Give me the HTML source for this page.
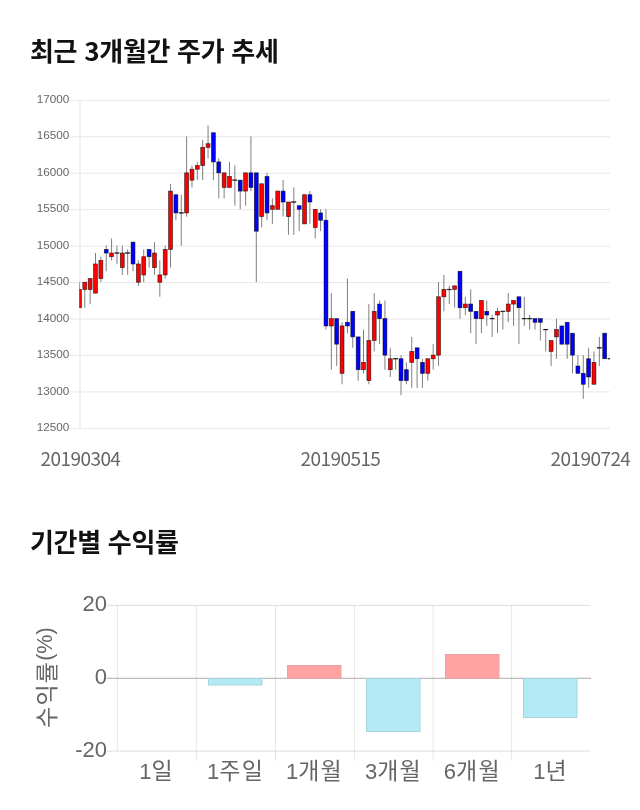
<!DOCTYPE html>
<html lang="ko"><head><meta charset="utf-8"><title>최근 3개월간 주가 추세</title>
<style>
html,body{margin:0;padding:0;background:#fff;}
body{width:640px;height:810px;position:relative;overflow:hidden;font-family:"Liberation Sans","Noto Sans CJK KR",sans-serif;}
h2{position:absolute;margin:0;left:30px;font:bold 26px/36px "Noto Sans CJK KR","Liberation Sans",sans-serif;color:#111;white-space:nowrap;letter-spacing:-0.3px;}
svg{position:absolute;left:0;top:0;}
.yl{font:11.7px "Liberation Sans",sans-serif;fill:#666;text-anchor:end;}
.dl{letter-spacing:-0.55px;text-anchor:middle;font:19px "Noto Sans CJK KR","Liberation Sans",sans-serif;fill:#666;}
.bl{font:22px "Liberation Sans","Noto Sans CJK KR",sans-serif;fill:#666;}
.kr{font-family:"Noto Sans CJK KR","Liberation Sans",sans-serif;font-size:23px;letter-spacing:1.2px;}
</style></head><body>
<h2 style="top:32.4px">최근 3개월간 주가 추세</h2>
<h2 style="top:523.4px">기간별 수익률</h2>
<svg width="640" height="810" viewBox="0 0 640 810">
<g stroke="#e8e8e8" stroke-width="1">
<line x1="69.5" y1="100.30" x2="610" y2="100.30"/>
<line x1="69.5" y1="136.75" x2="610" y2="136.75"/>
<line x1="69.5" y1="173.20" x2="610" y2="173.20"/>
<line x1="69.5" y1="209.65" x2="610" y2="209.65"/>
<line x1="69.5" y1="246.10" x2="610" y2="246.10"/>
<line x1="69.5" y1="282.55" x2="610" y2="282.55"/>
<line x1="69.5" y1="319.00" x2="610" y2="319.00"/>
<line x1="69.5" y1="355.45" x2="610" y2="355.45"/>
<line x1="69.5" y1="391.90" x2="610" y2="391.90"/>
<line x1="69.5" y1="428.35" x2="610" y2="428.35"/>
<line x1="80" y1="100.30" x2="80" y2="428.35" stroke="#efefef" stroke-width="1.6"/>
</g>
<g class="yl">
<text x="69.2" y="103.0">17000</text>
<text x="69.2" y="139.4">16500</text>
<text x="69.2" y="175.9">16000</text>
<text x="69.2" y="212.3">15500</text>
<text x="69.2" y="248.8">15000</text>
<text x="69.2" y="285.2">14500</text>
<text x="69.2" y="321.7">14000</text>
<text x="69.2" y="358.2">13500</text>
<text x="69.2" y="394.6">13000</text>
<text x="69.2" y="431.1">12500</text>
</g>
<g class="dl"><text x="80.4" y="466.3">20190304</text><text x="340.4" y="466.3">20190515</text><text x="590.4" y="466.3">20190724</text></g>
<defs><clipPath id="cp"><rect x="79.3" y="95" width="530.8" height="340"/></clipPath></defs>
<g clip-path="url(#cp)">
<path d="M79.42 282.20V307.72M84.78 282.20V307.72M90.14 278.56V304.07M95.50 253.04V293.14M100.86 256.69V282.20M106.22 245.75V271.27M111.58 238.46V260.33M116.94 245.75V263.98M122.30 245.75V274.91M127.66 249.40V274.91M133.02 242.11V271.27M138.38 260.33V285.85M143.74 249.40V282.20M149.10 249.40V267.62M154.46 242.11V274.91M159.82 260.33V296.78M165.18 245.75V278.56M170.54 183.79V267.62M175.90 194.72V220.24M181.26 194.72V245.75M186.62 136.40V216.59M191.98 165.56V187.43M197.34 161.92V180.14M202.70 140.05V180.14M208.06 125.47V158.27M213.42 132.75V180.14M218.78 158.27V198.37M224.14 172.85V198.37M229.50 161.92V187.43M234.86 165.56V205.66M240.22 180.14V209.30M245.58 172.85V205.66M250.94 136.40V191.08M256.30 172.85V282.20M261.66 183.79V227.53M267.02 172.85V220.24M272.38 198.37V223.88M277.74 191.08V209.30M283.10 180.14V216.59M288.46 202.01V234.81M293.82 187.43V234.81M299.18 205.66V231.17M304.54 194.72V223.88M309.90 191.08V223.88M315.26 209.30V238.46M320.62 209.30V231.17M325.98 209.30V329.59M331.34 293.14V369.68M336.70 318.65V366.04M342.06 322.30V384.26M347.42 278.56V333.23M352.78 311.36V347.81M358.14 336.88V380.62M363.50 329.59V373.32M368.86 304.07V384.26M374.22 293.14V351.46M379.58 300.43V344.17M384.94 300.43V369.68M390.30 347.81V376.97M395.66 358.75V369.68M401.02 355.10V395.19M406.38 362.39V384.26M411.74 336.88V387.91M417.10 347.81V387.91M422.46 358.75V387.91M427.82 358.75V380.62M433.18 344.17V369.68M438.54 282.20V366.04M443.90 274.91V311.36M449.26 285.85V304.07M454.62 285.85V307.72M459.98 271.27V318.65M465.34 296.78V315.00M470.70 289.49V333.23M476.06 311.36V344.17M481.42 300.43V333.23M486.78 300.43V325.94M492.14 315.00V336.88M497.50 307.72V333.23M502.86 311.36V329.59M508.22 293.14V322.30M513.58 300.43V325.94M518.94 296.78V344.17M524.30 296.78V325.94M529.66 315.00V329.59M535.02 318.65V329.59M540.38 318.65V340.52M545.74 329.59V351.46M551.10 340.52V366.04M556.46 318.65V358.75M561.82 325.94V344.17M567.18 322.30V358.75M572.54 333.23V373.32M577.90 355.10V373.32M583.26 355.10V398.84M588.62 347.81V387.91M593.98 351.46V384.26M599.34 336.88V366.04M604.70 333.23V358.75" stroke="#000" stroke-opacity="0.5" stroke-width="1" fill="none"/>
<g stroke="#000" stroke-opacity="0.7" stroke-width="0.7">
<rect x="77.47" y="289.49" width="3.90" height="18.23" fill="#ff0000"/>
<rect x="82.83" y="282.20" width="3.90" height="7.29" fill="#ff0000"/>
<rect x="88.19" y="278.56" width="3.90" height="10.94" fill="#ff0000"/>
<rect x="93.55" y="263.98" width="3.90" height="29.16" fill="#ff0000"/>
<rect x="98.91" y="260.33" width="3.90" height="18.22" fill="#ff0000"/>
<rect x="104.27" y="249.40" width="3.90" height="3.64" fill="#0000ff"/>
<rect x="109.63" y="253.04" width="3.90" height="3.64" fill="#ff0000"/>
<rect x="114.79" y="252.69" width="4.30" height="0.7" fill="#000" stroke="#000" stroke-width="0.5"/>
<rect x="120.35" y="253.04" width="3.90" height="14.58" fill="#ff0000"/>
<rect x="125.51" y="252.69" width="4.30" height="0.7" fill="#000" stroke="#000" stroke-width="0.5"/>
<rect x="131.07" y="242.11" width="3.90" height="21.87" fill="#0000ff"/>
<rect x="136.43" y="263.98" width="3.90" height="18.23" fill="#ff0000"/>
<rect x="141.79" y="256.69" width="3.90" height="18.23" fill="#ff0000"/>
<rect x="147.15" y="249.40" width="3.90" height="7.29" fill="#0000ff"/>
<rect x="152.51" y="253.04" width="3.90" height="14.58" fill="#ff0000"/>
<rect x="157.87" y="274.91" width="3.90" height="7.29" fill="#ff0000"/>
<rect x="163.23" y="249.40" width="3.90" height="25.51" fill="#ff0000"/>
<rect x="168.59" y="191.08" width="3.90" height="58.32" fill="#ff0000"/>
<rect x="173.95" y="194.72" width="3.90" height="18.22" fill="#0000ff"/>
<rect x="179.11" y="212.59" width="4.30" height="0.7" fill="#000" stroke="#000" stroke-width="0.5"/>
<rect x="184.67" y="172.85" width="3.90" height="40.09" fill="#ff0000"/>
<rect x="190.03" y="169.21" width="3.90" height="10.94" fill="#ff0000"/>
<rect x="195.39" y="165.56" width="3.90" height="3.65" fill="#ff0000"/>
<rect x="200.75" y="147.34" width="3.90" height="18.22" fill="#ff0000"/>
<rect x="206.11" y="143.69" width="3.90" height="3.65" fill="#ff0000"/>
<rect x="211.47" y="132.75" width="3.90" height="29.16" fill="#0000ff"/>
<rect x="216.83" y="161.92" width="3.90" height="10.94" fill="#0000ff"/>
<rect x="222.19" y="172.85" width="3.90" height="14.58" fill="#ff0000"/>
<rect x="227.55" y="176.50" width="3.90" height="10.94" fill="#ff0000"/>
<rect x="232.71" y="179.79" width="4.30" height="0.7" fill="#000" stroke="#000" stroke-width="0.5"/>
<rect x="238.27" y="180.14" width="3.90" height="10.94" fill="#0000ff"/>
<rect x="243.63" y="172.85" width="3.90" height="18.22" fill="#ff0000"/>
<rect x="248.99" y="172.85" width="3.90" height="14.58" fill="#0000ff"/>
<rect x="254.35" y="172.85" width="3.90" height="58.32" fill="#0000ff"/>
<rect x="259.71" y="183.79" width="3.90" height="32.81" fill="#ff0000"/>
<rect x="265.07" y="176.50" width="3.90" height="36.45" fill="#0000ff"/>
<rect x="270.43" y="205.66" width="3.90" height="3.64" fill="#ff0000"/>
<rect x="275.79" y="191.08" width="3.90" height="18.22" fill="#ff0000"/>
<rect x="281.15" y="191.08" width="3.90" height="10.93" fill="#0000ff"/>
<rect x="286.51" y="202.01" width="3.90" height="14.58" fill="#ff0000"/>
<rect x="291.67" y="201.66" width="4.30" height="0.7" fill="#000" stroke="#000" stroke-width="0.5"/>
<rect x="297.23" y="205.66" width="3.90" height="3.64" fill="#0000ff"/>
<rect x="302.59" y="194.72" width="3.90" height="29.16" fill="#ff0000"/>
<rect x="307.95" y="194.72" width="3.90" height="7.29" fill="#0000ff"/>
<rect x="313.31" y="209.30" width="3.90" height="18.23" fill="#ff0000"/>
<rect x="318.67" y="212.94" width="3.90" height="7.29" fill="#0000ff"/>
<rect x="324.03" y="220.24" width="3.90" height="105.70" fill="#0000ff"/>
<rect x="329.39" y="318.65" width="3.90" height="7.29" fill="#ff0000"/>
<rect x="334.75" y="318.65" width="3.90" height="25.51" fill="#0000ff"/>
<rect x="340.11" y="325.94" width="3.90" height="47.38" fill="#ff0000"/>
<rect x="345.47" y="322.30" width="3.90" height="3.64" fill="#0000ff"/>
<rect x="350.83" y="311.36" width="3.90" height="25.51" fill="#0000ff"/>
<rect x="356.19" y="336.88" width="3.90" height="32.81" fill="#0000ff"/>
<rect x="361.55" y="362.39" width="3.90" height="7.29" fill="#ff0000"/>
<rect x="366.91" y="340.52" width="3.90" height="40.09" fill="#ff0000"/>
<rect x="372.27" y="311.36" width="3.90" height="29.16" fill="#ff0000"/>
<rect x="377.63" y="304.07" width="3.90" height="14.58" fill="#0000ff"/>
<rect x="382.99" y="318.65" width="3.90" height="36.45" fill="#0000ff"/>
<rect x="388.35" y="358.75" width="3.90" height="10.94" fill="#ff0000"/>
<rect x="393.51" y="358.39" width="4.30" height="0.7" fill="#000" stroke="#000" stroke-width="0.5"/>
<rect x="399.07" y="358.75" width="3.90" height="21.87" fill="#0000ff"/>
<rect x="404.43" y="369.68" width="3.90" height="10.94" fill="#0000ff"/>
<rect x="409.79" y="351.46" width="3.90" height="10.93" fill="#ff0000"/>
<rect x="415.15" y="347.81" width="3.90" height="10.94" fill="#0000ff"/>
<rect x="420.51" y="362.39" width="3.90" height="10.94" fill="#0000ff"/>
<rect x="425.87" y="358.75" width="3.90" height="14.58" fill="#ff0000"/>
<rect x="431.23" y="355.10" width="3.90" height="3.64" fill="#ff0000"/>
<rect x="436.59" y="296.78" width="3.90" height="58.32" fill="#ff0000"/>
<rect x="441.95" y="289.49" width="3.90" height="7.29" fill="#ff0000"/>
<rect x="447.11" y="289.14" width="4.30" height="0.7" fill="#000" stroke="#000" stroke-width="0.5"/>
<rect x="452.67" y="285.85" width="3.90" height="3.64" fill="#ff0000"/>
<rect x="458.03" y="271.27" width="3.90" height="36.45" fill="#0000ff"/>
<rect x="463.39" y="304.07" width="3.90" height="3.65" fill="#ff0000"/>
<rect x="468.75" y="304.07" width="3.90" height="7.29" fill="#0000ff"/>
<rect x="474.11" y="311.36" width="3.90" height="7.29" fill="#0000ff"/>
<rect x="479.47" y="300.43" width="3.90" height="18.23" fill="#ff0000"/>
<rect x="484.83" y="311.36" width="3.90" height="3.64" fill="#0000ff"/>
<rect x="489.99" y="318.30" width="4.30" height="0.7" fill="#000" stroke="#000" stroke-width="0.5"/>
<rect x="495.55" y="311.36" width="3.90" height="3.64" fill="#ff0000"/>
<rect x="500.71" y="311.01" width="4.30" height="0.7" fill="#000" stroke="#000" stroke-width="0.5"/>
<rect x="506.27" y="304.07" width="3.90" height="7.29" fill="#ff0000"/>
<rect x="511.63" y="300.43" width="3.90" height="3.64" fill="#ff0000"/>
<rect x="516.99" y="296.78" width="3.90" height="10.94" fill="#0000ff"/>
<rect x="522.15" y="318.30" width="4.30" height="0.7" fill="#000" stroke="#000" stroke-width="0.5"/>
<rect x="527.51" y="318.30" width="4.30" height="0.7" fill="#000" stroke="#000" stroke-width="0.5"/>
<rect x="533.07" y="318.65" width="3.90" height="3.64" fill="#0000ff"/>
<rect x="538.43" y="318.65" width="3.90" height="3.64" fill="#0000ff"/>
<rect x="543.59" y="329.24" width="4.30" height="0.7" fill="#000" stroke="#000" stroke-width="0.5"/>
<rect x="549.15" y="340.52" width="3.90" height="10.94" fill="#ff0000"/>
<rect x="554.51" y="329.59" width="3.90" height="7.29" fill="#ff0000"/>
<rect x="559.87" y="325.94" width="3.90" height="18.23" fill="#0000ff"/>
<rect x="565.23" y="322.30" width="3.90" height="21.87" fill="#0000ff"/>
<rect x="570.59" y="333.23" width="3.90" height="21.87" fill="#0000ff"/>
<rect x="575.95" y="366.04" width="3.90" height="7.29" fill="#0000ff"/>
<rect x="581.31" y="373.32" width="3.90" height="10.94" fill="#0000ff"/>
<rect x="586.67" y="358.75" width="3.90" height="18.23" fill="#0000ff"/>
<rect x="592.03" y="362.39" width="3.90" height="21.87" fill="#ff0000"/>
<rect x="597.19" y="347.46" width="4.30" height="0.7" fill="#000" stroke="#000" stroke-width="0.5"/>
<rect x="602.75" y="333.23" width="3.90" height="25.51" fill="#0000ff"/>
<rect x="607.91" y="358.39" width="4.30" height="0.7" fill="#000" stroke="#000" stroke-width="0.5"/>
</g></g>
<g stroke="#e2e2e2" stroke-width="0.85" fill="none">
<path d="M117.3 605V751.3M196.3 605V761M275.4 605V761M354.4 605V761M433.2 605V761M511.6 605V761"/>
<path d="M107 605.4H591M107 751.1H591" stroke="#d8d8d8"/>
<path d="M107 678.3H591" stroke="#9c9c9c"/>
</g>
<g stroke-width="1">
<rect x="208.5" y="678.5" width="53.5" height="6.5" fill="#b2ebf5" stroke="#a6d5de"/>
<rect x="287.5" y="665.5" width="53.5" height="13" fill="#ffa3a3" stroke="#e8a0a0"/>
<rect x="366.5" y="678.5" width="53.5" height="53" fill="#b2ebf5" stroke="#a6d5de"/>
<rect x="445.5" y="654.5" width="53.5" height="24" fill="#ffa3a3" stroke="#e8a0a0"/>
<rect x="523.5" y="678.5" width="53.5" height="39" fill="#b2ebf5" stroke="#a6d5de"/>
</g>
<g class="bl">
<text x="107" y="610.8" text-anchor="end">20</text><text x="107" y="684" text-anchor="end">0</text><text x="107" y="757" text-anchor="end">-20</text>
<g text-anchor="middle">
<text x="156.6" y="778.8">1<tspan class="kr">일</tspan></text><text x="235.6" y="778.8">1<tspan class="kr">주일</tspan></text><text x="314.5" y="778.8">1<tspan class="kr">개월</tspan></text><text x="393.4" y="778.8">3<tspan class="kr">개월</tspan></text><text x="472.3" y="778.8">6<tspan class="kr">개월</tspan></text><text x="550.6" y="778.8">1<tspan class="kr">년</tspan></text>
<text transform="translate(54.5,677.6) rotate(-90)"><tspan class="kr">수익률</tspan><tspan dy="-2.2" font-size="21.6">(%)</tspan></text>
</g>
</g>
</svg>
</body></html>
